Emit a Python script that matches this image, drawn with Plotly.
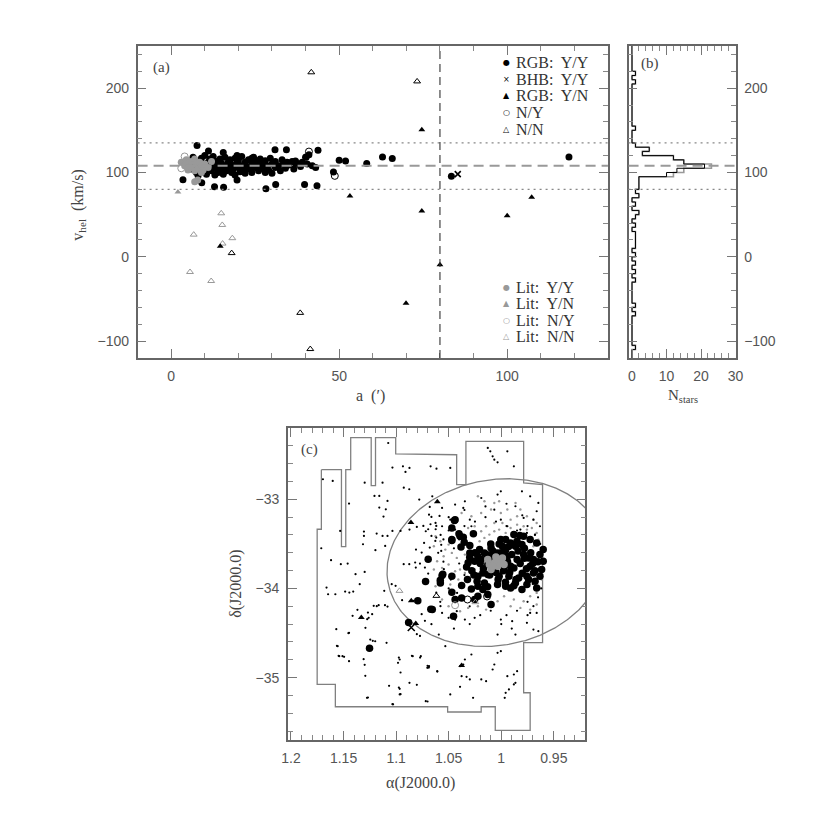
import numpy as np
import plotly.graph_objects as go

# ---------------- Panel (a): v_hel vs elliptical radius a ----------------
RGB_YY = [(5.5,112),(6,104),(6.5,118),(7,108),(7.5,100),(8,113),(8,96),(8.5,106),(9,117),(9,101),
          (9.5,110),(10,104),(10,120),(10.5,98),(11,112),(11,107),(11.5,116),(12,102),(12,110),(12.5,119),
          (13,105),(13,97),(13.5,113),(14,108),(14,100),(14.5,116),(15,104),(15,111),(15.5,98),(16,107),
          (16,118),(16.5,102),(17,112),(17,106),(17.5,115),(18,100),(18,109),(18.5,104),(19,117),(19,97),
          (19.5,111),(20,106),(20,114),(20.5,101),(21,108),(21,119),(21.5,103),(22,112),(22,99),(22.5,107),
          (23,115),(23.5,104),(24,110),(24,100),(24.5,118),(25,106),(25.5,113),(26,102),(26,109),(26.5,116),
          (27,105),(27.5,111),(28,100),(28,114),(28.5,108),(29,103),(29.5,117),(30,110),(30,99),(31,106),
          (31,113),(32,108),(32.5,102),(33,115),(33.5,110),(34,105),(34.5,112),(35,109),(36,113),(36.5,104),
          (37,111),(38,110),(38.5,107),(39,112),(40,118),(40.5,110),(41,121),(42,108),(43,106),
          (7.7,132),(11.1,125.5),(15.5,123.6),(30.9,127),(34.3,127),(43.7,126.3),(40.2,118.4),(37,113.7),
          (50,114.5),(51.9,113.7),(58.2,110.6),(62.9,118.4),(65.8,116.5),(48.3,100.7),(83.4,95.6),
          (118.4,118.4),(3.5,91.5),(9.1,87.7),(12.9,83),(15.6,82.6),(19.6,91),(28.2,80.6),(31.1,85.8),
          (39.7,85.8),(43.4,84.2),(19.6,120),(24,117)]
BHB_YY = [(85.3,98)]
RGB_YN = [(74.6,150.8),(53.2,72),(107.3,70.5),(74.6,54.3),(100,48.8),(80,-9.4),(69.9,-55),(14.6,12.6)]
OWN_NY = [(41,124.8),(48.7,96)]
OWN_NN = [(73.2,208),(41.7,218.8),(18,4.4),(38.4,-66.5),(41.4,-109.4)]
LIT_YY = [(3,112),(4,108),(4.5,115),(5,103),(5,110),(6,113),(6,106),(7,116),(7,102),(7.5,110),
          (8,105),(8.5,112),(9,108),(9.5,103),(10,110),(11,106),(12,113),(7.9,91),(7,89),(9,100)]
LIT_YN = [(2,77)]
LIT_NY = [(4,119),(3,105)]
LIT_NN = [(14.9,51.6),(15.2,37.8),(6.7,26.3),(18.2,22.1),(15.3,15.7),(5.6,-18),(11.9,-28.7)]

LEGEND_OWN = [("●", "black", "RGB:\u00a0 Y/Y"), ("×", "black", "BHB:\u00a0 Y/Y"), ("▲", "black", "RGB:\u00a0 Y/N"),
              ("○", "black", "N/Y"), ("△", "black", "N/N")]
LEGEND_LIT = [("●", "#999999", "Lit:\u00a0 Y/Y"), ("▲", "#999999", "Lit:\u00a0 Y/N"),
              ("○", "#999999", "Lit:\u00a0 N/Y"), ("△", "#999999", "Lit:\u00a0 N/N")]

V_SYS = 108      # systemic velocity (dashed)
V_LOW = 80       # membership window (dotted)
V_HIGH = 135
A_LIMIT = 80     # vertical dashed line in (a)

# ---------------- Panel (b): velocity histogram ----------------
HIST_BIN_WIDTH = 5
HIST_V_MIN, HIST_V_MAX = -120, 250
HIST_BIN_LO = [-110,-70,-60,-30,-20,-10,0,10,15,20,25,35,45,50,60,70,75,80,85,90,95,100,105,110,115,120,125,130,150,205,215]
HIST_N_BLACK = [1,1,1,1,1,1,1,1,1,1,1,1,1,2,1,2,1,2,2,2,10,13,21,15,12,3,5,1,1,1,1]
HIST_N_GRAY  = [1,1,1,1,1,1,1,1,1,1,1,1,1,2,1,2,1,2,2,2,12,15,23,15,12,3,5,1,1,1,1]

# ---------------- Panel (c): sky positions ----------------
FOOTPRINT = [(1.1711,-32.667),(1.1520,-32.667),(1.1520,-33.530),(1.1479,-33.530),(1.1479,-32.667),
             (1.1432,-32.667),(1.1432,-32.308),(1.1237,-32.308),(1.1237,-32.846),(1.1196,-32.846),
             (1.1196,-32.308),(1.1004,-32.308),(1.1004,-32.49),(1.0424,-32.50),(1.0424,-32.835),
             (1.0336,-32.835),(1.0336,-32.350),(0.9787,-32.350),(0.9787,-32.816),(0.9607,-32.835),
             (0.9607,-34.608),(0.9787,-34.608),(0.9787,-35.170),(0.9725,-35.170),(0.9725,-35.593),
             (1.0057,-35.593),(1.0057,-35.327),(1.0191,-35.327),(1.0191,-35.386),(1.0510,-35.386),
             (1.0510,-35.327),(1.1578,-35.327),(1.1578,-35.077),(1.1751,-35.077),(1.1751,-33.336),
             (1.1711,-33.336),(1.1711,-32.667)]

ELL_RA0, ELL_DEC0 = 1.0051, -33.71   # hours, degrees
ELL_A, ELL_B, ELL_PA = 1.30, 0.93, 99.0  # degrees, degrees, deg E of N

DOTS_BLACK = [(1.1035,-32.644),(1.0911,-32.693),(1.0616,-32.656),(1.1696,-32.775),(1.1603,-32.794),
    (1.1299,-32.813),(1.1129,-32.813),(1.0927,-32.869),(1.0875,-32.887),(1.1206,-32.962),(1.1160,-32.962),
    (1.1082,-33.018),(1.1448,-33.048),(1.1160,-33.093),(1.1098,-33.112),(1.1120,-33.194),(1.1532,-33.355),
    (1.1306,-33.362),(1.1306,-33.411),(1.1185,-33.384),(1.1129,-33.411),(1.1082,-33.411),(1.1315,-33.504),
    (1.1104,-33.523),(1.1712,-33.549),(1.1197,-33.571),(1.1619,-33.683),(1.1526,-33.728),(1.1461,-33.721),
    (1.1299,-33.814),(1.1386,-33.840),(1.1346,-33.952),(1.1662,-33.990),(1.1485,-34.035),(1.1445,-34.046),
    (1.1408,-34.035),(1.1647,-34.065),(1.1578,-34.065),(1.1213,-34.195),(1.1166,-34.188),(1.1082,-34.203),
    (1.1368,-34.240),(1.1268,-34.270),(1.1228,-34.289),(1.1414,-34.307),(1.1275,-34.345),(1.1569,-34.457),
    (1.1454,-34.502),(1.1563,-34.644),(1.1222,-34.588),(1.1547,-34.756),(1.1495,-34.767),(1.1309,-34.793),
    (1.1299,-34.857),(1.1293,-34.980),(1.0974,-34.775),(1.0850,-34.756),(1.0772,-34.775),(1.0701,-34.868),
    (1.0689,-34.887),(1.0958,-34.943),(1.0608,-34.932),(1.0974,-35.111),(1.1067,-35.092),(1.0803,-35.081),
    (1.0958,-35.186),(1.1268,-35.223),(1.1035,-35.298),(1.0701,-35.268),
    (1.0680,-33.085),(1.0664,-33.198),(1.0587,-33.186),(1.0618,-33.298),(1.0673,-33.280),(1.0624,-33.336),
    (1.0803,-33.310),(1.0741,-33.298),(1.0695,-33.336),(1.1035,-33.355),(1.0958,-33.355),(1.0664,-33.411),
    (1.0618,-33.429),(1.0577,-33.399),(1.0627,-33.467),(1.0571,-33.511),(1.0680,-33.541),(1.0757,-33.597),
    (1.0571,-33.579),(1.0928,-33.728),(1.0819,-33.709),(1.0773,-33.721),(1.0726,-33.766),(1.0813,-33.766),
    (1.0875,-33.728),(1.0695,-33.833),(1.0546,-33.784),(1.1042,-33.952),(1.1005,-33.971),(1.0943,-34.132),
    (1.0835,-34.139),(1.1113,-34.027),(1.0757,-34.289),(1.0664,-34.401),(1.0773,-34.532),(1.0803,-34.513),
    (1.0726,-34.363),(1.0618,-34.046),
    (1.0346,-34.349),(1.0253,-34.330),(1.0004,-34.349),(0.9896,-34.367),(1.0035,-34.517),(0.9865,-34.517),
    (0.9756,-34.386),(0.9694,-34.461),(0.9647,-34.479),(0.9725,-34.274),(0.9663,-34.274),(0.9694,-34.199),
    (1.0035,-34.722),(1.0004,-34.704),(1.0284,-34.741),(1.0346,-34.797),(1.0330,-34.991),(1.0392,-35.103),
    (1.0299,-35.021),(1.0190,-35.021),(1.0144,-35.040),(0.9942,-34.984),(0.9880,-34.965),(0.9849,-34.928),
    (0.9927,-35.133),(0.9958,-35.171),(0.9967,-35.227),(0.9880,-35.077),(0.9865,-35.059),(1.0609,-34.928),
    (1.0687,-34.872),(1.0703,-34.890),(1.0765,-34.760),(1.0966,-34.797),(1.0982,-34.834),(1.0873,-35.059),
    (1.0966,-35.126),(1.0966,-35.189),(1.0718,-35.264),(1.0268,-35.227),(1.0485,-35.189),(1.0532,-34.647),
    (1.1091,-34.610),(1.1199,-34.592),(1.1246,-34.573),(1.1556,-34.647),(1.1541,-34.760),(1.1510,-34.760),
    (1.1448,-34.498),(1.1292,-34.442),(1.1184,-34.199),(1.1106,-34.188),(1.1261,-34.330),(1.0563,-34.274),
    (1.0578,-34.199),(1.0501,-34.330),(1.0439,-34.349),(1.0423,-34.255),(1.0594,-34.517),(1.0392,-34.872),
    (1.0361,-34.853),(1.0082,-34.909),(1.0066,-34.853),(1.0377,-34.984),(1.1277,-35.227),(1.1029,-35.300),
    (1.0842,-34.760),(1.1448,-34.816),
    (1.0128,-32.424),(1.0104,-32.462),(1.0082,-32.518),(1.0066,-32.555),(1.0035,-32.585),(0.9942,-32.462),
    (0.9880,-32.630),(1.1075,-32.368),(1.0672,-32.630),(1.0485,-32.648),(1.0873,-32.648),(1.0935,-32.630),
    (1.0346,-33.022),(1.0190,-32.985),(1.0004,-32.910),(1.0035,-32.947),(0.9803,-32.910),(0.9725,-32.966),
    (0.9647,-33.041),(0.9663,-33.134),(1.0066,-33.116),(1.0439,-33.059),(1.0563,-33.097),(1.0361,-33.097),
    (1.0656,-32.966),(0.9865,-33.078),(0.9787,-33.209),(0.9694,-33.228),(0.9632,-33.302),(0.9678,-33.396),
    (1.0485,-33.228),(1.0299,-33.228),(1.0284,-33.302),(1.0625,-33.265),(1.0687,-33.172),(1.0718,-33.358),
    (1.0563,-33.302),(1.0439,-33.340),(1.0004,-33.228),(0.9942,-33.302),(0.9818,-33.340),(0.9756,-33.377),
    (1.0780,-33.003),(1.0873,-33.340),(1.0734,-33.489),(1.0811,-33.564),
    (1.050,-33.35),(1.045,-33.55),(1.055,-33.70),(1.040,-33.72),(1.035,-33.85),(1.050,-34.00),(1.042,-34.05),
    (1.030,-34.20),(1.020,-34.30),(1.010,-34.25),(0.995,-34.30),(0.985,-34.25),(0.975,-34.15),(0.965,-34.10),
    (0.962,-34.00),(0.970,-33.95),(0.963,-33.50),(0.968,-33.40),(0.975,-33.30),(0.985,-33.35),(0.995,-33.30),
    (1.005,-33.25),(1.015,-33.20),(1.025,-33.25),(1.035,-33.30),(1.040,-33.45),(1.055,-33.45),(1.060,-33.60),
    (1.048,-33.90),(1.058,-34.15),(1.000,-34.40),(0.990,-34.45),(0.975,-34.30),(1.030,-34.40),(1.045,-34.45),
    (0.980,-33.18),(0.995,-33.05),(1.015,-33.08),(1.035,-33.12),(1.050,-33.20)]

DOTS_GRAY = [(1.0625,-33.414),(1.0579,-33.470),(1.0641,-33.526),(1.0532,-33.564),(1.0501,-33.508),
    (1.0548,-33.639),(1.0610,-33.695),(1.0470,-33.601),(1.0423,-33.657),(1.0501,-33.732),(1.0392,-33.788),
    (1.0439,-33.807),(1.0563,-33.769),(1.0346,-33.620),(1.0284,-33.583),(1.0206,-33.470),(1.0160,-33.433),
    (1.0113,-33.396),(1.0066,-33.358),(1.0020,-33.340),(0.9958,-33.377),(0.9911,-33.321),(0.9849,-33.284),
    (0.9787,-33.302),(1.0144,-33.302),(1.0191,-33.358),(1.0253,-33.302),(1.0315,-33.321),(1.0066,-33.265),
    (0.9989,-33.265),(0.9911,-33.228),(0.9849,-33.190),(0.9756,-33.340),(0.9709,-33.321),(0.9663,-33.377),
    (0.9694,-33.526),(0.9647,-33.452),(0.9616,-33.900),(0.9663,-34.050),(0.9725,-34.087),(0.9787,-34.143),
    (0.9880,-34.124),(0.9973,-34.087),(1.0035,-34.143),(1.0144,-34.237),(1.0222,-34.199),(1.0315,-34.218),
    (1.0392,-34.255),(1.0501,-34.199),(1.0563,-34.124),(1.0625,-33.975),(1.0641,-33.788),(1.0485,-33.956),
    (1.0408,-33.900),(1.0346,-33.826),(1.0253,-33.788),(1.0175,-33.788),(0.9911,-34.199),(0.9818,-34.218),
    (0.9725,-34.237),(0.9663,-34.180),(1.0377,-33.153),(1.0284,-33.190),(1.0191,-33.153),(1.0097,-33.115),
    (1.0004,-33.153),(0.9942,-33.115),(1.0066,-33.041),(1.0160,-33.022),(1.0222,-32.966),(1.0020,-33.022),
    (0.9864,-33.041),(0.9818,-33.115),(0.9756,-33.190),(0.9694,-33.228),(0.9663,-33.265)]

C_RGB_YY = [(1.0445,-33.239),(1.0470,-33.321),(1.0402,-33.385),(1.0361,-33.426),(1.0265,-33.385),
    (1.0470,-33.463),(1.0352,-33.482),(1.0299,-33.519),(1.0383,-33.534),(1.0299,-33.601),(1.0563,-33.855),
    (1.0579,-33.938),(1.0470,-33.863),(1.0377,-33.967),(1.0284,-34.005),(1.0321,-33.900),(1.0222,-33.863),
    (1.0175,-33.826),(1.0128,-33.844),(1.0066,-33.788),(1.0222,-33.975),(1.0175,-34.012),(1.0128,-34.068),
    (1.0222,-34.087),(1.0253,-34.124),(1.0470,-34.042),(1.0439,-34.124),(1.0377,-34.106),(1.0097,-34.180),
    (1.0454,-34.311),(1.0656,-34.237),(1.0035,-33.956),(0.9958,-33.975),(0.9911,-33.994),(0.9865,-33.938),
    (0.9756,-33.956),(0.9803,-34.012),(0.9678,-33.919),(0.9663,-33.994),(0.9694,-33.826),(0.9725,-33.751),
    (0.9741,-33.657),(0.9694,-33.676),(0.9632,-33.620),(0.9601,-33.564),(0.9663,-33.489),(0.9725,-33.452),
    (0.9803,-33.508),(0.9865,-33.526),(0.9911,-33.489),(0.9989,-33.526),(0.9880,-33.396),(0.9824,-33.407),
    (0.9787,-33.414),(0.9601,-33.695),(0.9616,-33.788),(0.9632,-33.863),(0.9973,-33.788),(1.0020,-33.863),
    (0.9927,-33.863),(0.9834,-33.882),(0.9756,-33.863),(0.9989,-33.695),(1.0066,-33.676),(1.0128,-33.732),
    (1.0191,-33.676),(1.0253,-33.695),(1.0315,-33.713),(0.9942,-33.639),(0.9849,-33.676),(0.9787,-33.620),
    (0.9911,-33.751),(1.0035,-33.601),(1.0082,-33.620),(1.0097,-33.545),(1.0160,-33.601),(1.0206,-33.564),
    (1.0222,-33.639),(1.0004,-33.452),(0.9958,-33.452),
    (1.025,-33.60),(1.020,-33.72),(1.017,-33.78),(1.014,-33.62),(1.011,-33.85),(1.008,-33.58),(1.005,-33.82),
    (1.003,-33.90),(1.000,-33.60),(0.998,-33.80),(0.996,-33.57),(0.994,-33.70),(0.992,-33.82),(0.990,-33.62),
    (0.988,-33.77),(0.986,-33.90),(0.984,-33.58),(0.982,-33.72),(0.980,-33.83),(0.978,-33.66),(0.976,-33.78),
    (0.974,-33.90),(0.972,-33.60),(0.970,-33.72),(1.028,-33.80),(1.030,-33.65),(1.023,-33.92),(1.016,-33.94),
    (1.010,-33.50),(1.002,-33.50),(0.993,-33.53),(0.985,-33.47),(0.978,-33.55),(0.968,-33.80),(0.965,-33.70),
    (1.033,-33.76),(1.026,-33.85),(0.996,-33.93),(0.988,-33.97),(1.013,-33.98),
    (1.0695,-33.672),(1.0580,-33.908),(1.0556,-33.840),(1.0720,-33.923),(1.0794,-34.139),(1.0670,-34.233),
    (1.0881,-34.382),(1.1253,-34.670),(1.0439,-33.228),(1.0470,-33.452),(1.0392,-33.414)]
C_BHB_YY = [(1.0856,-34.438)]
C_RGB_YN = [(1.0608,-33.026),(1.0859,-33.261),(1.0856,-34.139),(1.1331,-34.326),(1.0813,-34.393),
            (0.9880,-33.519),(1.0377,-34.864)]
C_OWN_NY = [(1.0321,-34.124),(1.0135,-34.090)]
C_OWN_NN = [(1.0617,-34.083)]
C_LIT_YY = [(1.0113,-33.732),(1.0066,-33.713),(1.0020,-33.695),(0.9989,-33.657),(1.0035,-33.751),
            (1.0097,-33.788),(0.9973,-33.732),(1.0128,-33.676),(1.0051,-33.646),(1.0082,-33.751)]
C_LIT_NY = [(1.0439,-34.188)]
C_LIT_NN = [(1.0968,-34.027),(1.0246,-34.154)]

# ---------------- styling ----------------
W = H = 830
def px_x(p): return p / W
def px_y(p): return 1 - p / H

GRAY = "#999999"
AXCOL = "#666666"
TICKFONT = dict(family="Liberation Sans, Arial, sans-serif", size=14, color="#555555")
SERIF = "Liberation Serif, DejaVu Serif, serif"

fig = go.Figure()

def unzip(pairs):
    return [p[0] for p in pairs], [p[1] for p in pairs]

def add_pts(pairs, xa, ya, **marker):
    x, y = unzip(pairs)
    fig.add_trace(go.Scatter(x=x, y=y, mode="markers", xaxis=xa, yaxis=ya,
                             showlegend=False, marker=marker, hoverinfo="skip"))

# panel (a)
add_pts(LIT_NN, "x", "y", symbol="triangle-up-open", size=6, line=dict(color=GRAY, width=1), color=GRAY)
add_pts(LIT_YN, "x", "y", symbol="triangle-up", size=6, color=GRAY)
add_pts(RGB_YY, "x", "y", symbol="circle", size=7, color="black")
add_pts(LIT_YY, "x", "y", symbol="circle", size=7, color=GRAY)
add_pts(LIT_NY, "x", "y", symbol="circle-open", size=7, line=dict(color=GRAY, width=1), color=GRAY)
add_pts(BHB_YY, "x", "y", symbol="x-thin", size=6, line=dict(color="black", width=1.6), color="black")
add_pts(RGB_YN, "x", "y", symbol="triangle-up", size=6, color="black")
add_pts(OWN_NY, "x", "y", symbol="circle-open", size=7, line=dict(color="black", width=1), color="black")
add_pts(OWN_NN, "x", "y", symbol="triangle-up-open", size=6, line=dict(color="black", width=1), color="black")

# panel (b) histograms as step outlines
edges = np.arange(HIST_V_MIN, HIST_V_MAX + HIST_BIN_WIDTH, HIST_BIN_WIDTH)
def hist_outline(counts_nz):
    counts = np.zeros(len(edges) - 1)
    for lo, n in zip(HIST_BIN_LO, counts_nz):
        counts[int((lo - HIST_V_MIN) // HIST_BIN_WIDTH)] = n
    xs, ys = [0], [edges[0]]
    for i, n in enumerate(counts):
        xs += [n, n]
        ys += [edges[i], edges[i + 1]]
    xs.append(0); ys.append(edges[-1])
    return xs, ys
for cnts, col, wid in [(HIST_N_GRAY, GRAY, 1.6), (HIST_N_BLACK, "black", 1.0)]:
    hx, hy = hist_outline(cnts)
    fig.add_trace(go.Scatter(x=hx, y=hy, mode="lines", xaxis="x2", yaxis="y2", showlegend=False,
                             line=dict(color=col, width=wid), hoverinfo="skip"))

# panel (c)
fx, fy = unzip(FOOTPRINT)
fig.add_trace(go.Scatter(x=fx, y=fy, mode="lines", xaxis="x3", yaxis="y3", showlegend=False,
                         line=dict(color="#808080", width=1.3), hoverinfo="skip"))
t = np.linspace(0, 2 * np.pi, 400)
pa = np.radians(ELL_PA)
east = ELL_A * np.cos(t) * np.sin(pa) + ELL_B * np.sin(t) * np.cos(pa)
north = ELL_A * np.cos(t) * np.cos(pa) - ELL_B * np.sin(t) * np.sin(pa)
ell_ra = ELL_RA0 + east / (15 * np.cos(np.radians(ELL_DEC0)))
ell_dec = ELL_DEC0 + north
fig.add_trace(go.Scatter(x=ell_ra, y=ell_dec, mode="lines", xaxis="x3", yaxis="y3", showlegend=False,
                         line=dict(color="#808080", width=1.3), hoverinfo="skip"))
add_pts(DOTS_GRAY, "x3", "y3", symbol="circle", size=2.4, color=GRAY)
add_pts(DOTS_BLACK, "x3", "y3", symbol="circle", size=2.2, color="black")
add_pts(C_RGB_YY, "x3", "y3", symbol="circle", size=7.5, color="black")
add_pts(C_LIT_YY, "x3", "y3", symbol="circle", size=7.5, color=GRAY)
add_pts(C_BHB_YY, "x3", "y3", symbol="x-thin", size=7, line=dict(color="black", width=1.6), color="black")
add_pts(C_RGB_YN, "x3", "y3", symbol="triangle-up", size=6, color="black")
add_pts(C_OWN_NY, "x3", "y3", symbol="circle-open", size=7, line=dict(color="black", width=1), color="black")
add_pts(C_OWN_NN, "x3", "y3", symbol="triangle-up-open", size=6, line=dict(color="black", width=1), color="black")
add_pts(C_LIT_NY, "x3", "y3", symbol="circle-open", size=7, line=dict(color=GRAY, width=1), color=GRAY)
add_pts(C_LIT_NN, "x3", "y3", symbol="triangle-up-open", size=6, line=dict(color=GRAY, width=1), color=GRAY)

def axstyle(dtick, minor_dtick, tick0=0, **kw):
    d = dict(showline=True, linecolor=AXCOL, linewidth=1.5, mirror="ticks", ticks="inside",
             ticklen=9, tickwidth=1.2, tickcolor="#777777", showgrid=False, zeroline=False,
             dtick=dtick, tick0=tick0, tickfont=TICKFONT, ticklabelstandoff=4,
             minor=dict(ticks="inside", ticklen=5, tickwidth=1, tickcolor="#888888",
                        dtick=minor_dtick, tick0=tick0, showgrid=False))
    d.update(kw)
    return d

ya_dom = [px_y(358), px_y(46)]
fig.update_layout(
    width=W, height=H, autosize=False, margin=dict(l=0, r=0, t=0, b=0),
    paper_bgcolor="white", plot_bgcolor="white", showlegend=False,
    xaxis=axstyle(50, 10, domain=[px_x(133), px_x(612)], range=[-10, 130], anchor="y"),
    yaxis=axstyle(100, 20, domain=ya_dom, range=[-120, 250], anchor="x"),
    xaxis2=axstyle(10, 2, domain=[px_x(633), px_x(742)], range=[-1, 30], anchor="y2"),
    yaxis2=axstyle(100, 20, domain=ya_dom, range=[-120, 250], anchor="x2", side="right"),
    xaxis3=axstyle(0.05, 0.01, tick0=1.0, domain=[px_x(286), px_x(589)], range=[1.203, 0.920],
                   anchor="y3", tickformat="~g"),
    yaxis3=axstyle(1, 0.2, tick0=-33, domain=[px_y(740), px_y(428)], range=[-35.7, -32.2], anchor="x3"),
)

shapes = []
for xr, yr in [("x", "y"), ("x2", "y2")]:
    for v in (V_LOW, V_HIGH):
        shapes.append(dict(type="line", xref=f"{xr} domain", yref=yr, x0=0, x1=1, y0=v, y1=v,
                           line=dict(color="#888888", width=1.3, dash="2px,4px")))
    shapes.append(dict(type="line", xref=f"{xr} domain", yref=yr, x0=0, x1=1, y0=V_SYS, y1=V_SYS,
                       line=dict(color="#999999", width=2, dash="10px,6px")))
shapes.append(dict(type="line", xref="x", yref="y domain", x0=A_LIMIT, x1=A_LIMIT, y0=0, y1=1,
                   line=dict(color="#333333", width=1.1, dash="8px,5px")))
fig.update_layout(shapes=shapes)

ann_font = dict(family=SERIF, size=15, color="#444444")
big_font = dict(family=SERIF, size=16, color="#444444")
annotations = [
    dict(text="(a)", x=px_x(157), y=px_y(68)),
    dict(text="(b)", x=px_x(655), y=px_y(63)),
    dict(text="(c)", x=px_x(308), y=px_y(449)),
    dict(text="v<sub>hel</sub>  (km/s)", x=px_x(73), y=px_y(205), textangle=-90, font=big_font),
    dict(text="a  (′)", x=px_x(370), y=px_y(396), font=big_font),
    dict(text="N<sub>stars</sub>", x=px_x(688), y=px_y(396)),
    dict(text="α(J2000.0)", x=px_x(421), y=px_y(783), font=big_font),
    dict(text="δ(J2000.0)", x=px_x(233), y=px_y(584), textangle=-90, font=big_font),
]
for a in annotations:
    a.setdefault("font", ann_font)
    a.update(xref="paper", yref="paper", showarrow=False, xanchor="center", yanchor="middle")

# legend blocks inside panel (a), drawn as text
def legend_rows(rows, y0, dy):
    out = []
    for i, (sym, col, label) in enumerate(rows):
        yy = px_y(y0 + i * dy)
        out.append(dict(text=sym, x=px_x(509), y=yy, xanchor="center", yanchor="middle",
                        xref="paper", yref="paper", showarrow=False,
                        font=dict(family="DejaVu Sans", size=8, color=col)))
        out.append(dict(text=label, x=px_x(516), y=yy, xanchor="left", yanchor="middle",
                        xref="paper", yref="paper", showarrow=False,
                        font=dict(family=SERIF, size=16, color="#333333")))
    return out
annotations += legend_rows(LEGEND_OWN, 62.5, 16.7)
annotations += legend_rows(LEGEND_LIT, 287.3, 16.5)
fig.update_layout(annotations=annotations)

fig.write_html("out.html", config={"displayModeBar": False},
               post_script="document.body.style.margin='0';document.body.style.overflow='hidden';")
